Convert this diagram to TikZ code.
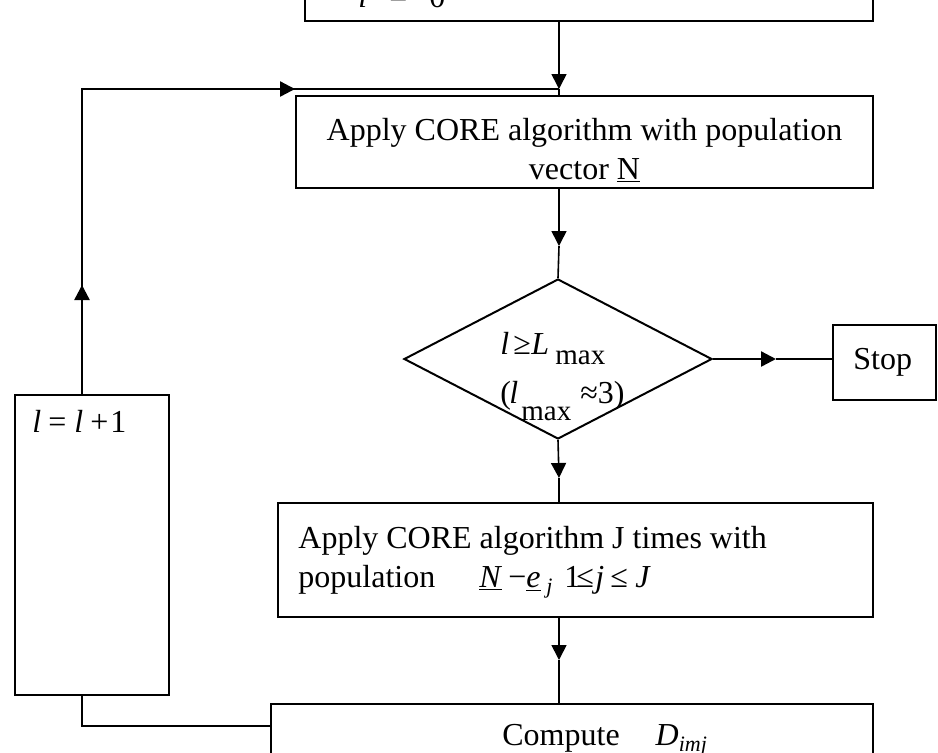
\documentclass[tikz,border=0pt]{standalone}
\usepackage{fontspec}
\setmainfont{Liberation Serif}
\usetikzlibrary{arrows.meta,shapes.geometric}
\newcommand\mkpc[2]{\makebox[#1][l]{#2}}
\begin{document}
\begin{tikzpicture}[x=0.5pt,y=-0.5pt,
  box/.style={draw,line width=1pt,inner sep=0pt,rectangle},
  txt/.style={inner sep=0pt,font=\fontsize{16pt}{19.5pt}\selectfont},
  conn/.style={line width=0.8pt},
  tipc/.style={line width=0.8pt,-{Triangle[length=7.5pt,width=7.5pt]}},
  tipk/.style={line width=1.2pt,-{Triangle[length=7.5pt,width=7.5pt]}},
]
\useasboundingbox (0,0) rectangle (938,752);
% boxes
\node[box,minimum width=284pt,minimum height=50.5pt] (b0) at (589,-29.5) {};
\node[box,minimum width=288.5pt,minimum height=46pt] (b1) at (584.5,142) {};
\node[draw,line width=1pt,diamond,inner sep=0pt,minimum width=154pt,minimum height=80pt] (d) at (558,359) {};
\node[box,minimum width=51.5pt,minimum height=37.5pt] (stop) at (884.5,362.5) {};
\node[box,minimum width=297.5pt,minimum height=57pt] (b3) at (575.5,560) {};
\node[box,minimum width=301pt,minimum height=48pt] (b4) at (572,752) {};
\node[box,minimum width=77pt,minimum height=150pt] (bl) at (92,545) {};
% texts
\node[txt,anchor=base west] (t0) at (358,7) {\textit{l}\hspace{11pt}=\hspace{11pt}0};
\node[txt,anchor=base] (t1a) at (584.5,140) {Apply CORE algorithm with population};
\node[txt,anchor=base] (t1b) at (584.5,179) {vector \underline{N}};
\node[txt,anchor=base west] (td1) at (500,354) {\mkpc{6.5pt}{\textit{l}}\mkpc{9pt}{≥}\mkpc{12pt}{\textit{L}}\raisebox{-5pt}{\fontsize{14.5pt}{14.5pt}\selectfont max}};
\node[txt,anchor=base west] (td2) at (500,403) {\mkpc{4.5pt}{(}\mkpc{6pt}{\textit{l}}\mkpc{29.5pt}{\raisebox{-8.5pt}{\fontsize{14.5pt}{14.5pt}\selectfont max}}≈3)};
\node[txt,anchor=base west] (ts) at (853,369) {Stop};
\node[txt,anchor=base west] (t3a) at (298,548) {Apply CORE algorithm J times with};
\node[txt,anchor=base west] (t3b) at (298,587) {population};
\node[txt,anchor=base west] (t3c) at (479,587) {\mkpc{14.5pt}{\underline{\textit{N}}}\mkpc{9pt}{−}\mkpc{10pt}{\underline{\textit{e}}}\mkpc{9pt}{\raisebox{-3pt}{\fontsize{11pt}{11pt}\selectfont\textit{j}}}\mkpc{6pt}{1}\mkpc{9.5pt}{≤}\mkpc{7.5pt}{\textit{j}}\mkpc{12.5pt}{≤}\textit{J}};
\node[txt,anchor=base west] (tl) at (32,432) {\mkpc{8pt}{\textit{l}}\mkpc{13pt}{=}\mkpc{8pt}{\textit{l}}\mkpc{10pt}{+}1};
\node[txt,anchor=base west] (t4) at (502,745) {Compute\hspace{18pt}\textit{D}\raisebox{-3pt}{\fontsize{11pt}{11pt}\selectfont\textit{imj}}};
% coordinates
\coordinate (J) at (559,89);
\coordinate (LT) at (82,89);
\coordinate (LB) at (82,726);
\coordinate (upS) at (82,332);
\coordinate (upT) at (82,285);
\coordinate (rS) at (224,89);
\coordinate (rT) at (295,89);
\coordinate (a2) at (559,246);
\coordinate (a3) at (559,478);
\coordinate (a4) at (559,660);
\coordinate (sS) at (d.east);
\coordinate (sT) at (776,359);
% connectors
\draw[tipc] (b0.south -| J) -- (J);
\draw[conn] (J) -- (J |- b1.north);
\draw[conn] (LT |- bl.north) -- (LT) -- (J);
\draw[tipk] (upS) -- (upT);
\draw[tipk] (rS) -- (rT);
\draw[tipc] (J |- b1.south) -- (a2);
\draw[conn] (a2) -- (d.north);
\draw[tipk] (sS) -- (sT);
\draw[conn] (sT) -- (stop.west |- sT);
\draw[tipc] (d.south) -- (a3);
\draw[conn] (a3) -- (J |- b3.north);
\draw[tipc] (J |- b3.south) -- (a4);
\draw[conn] (a4) -- (J |- b4.north);
\draw[conn] (b4.west |- LB) -- (LB) -- (LB |- bl.south);
\end{tikzpicture}
\end{document}
